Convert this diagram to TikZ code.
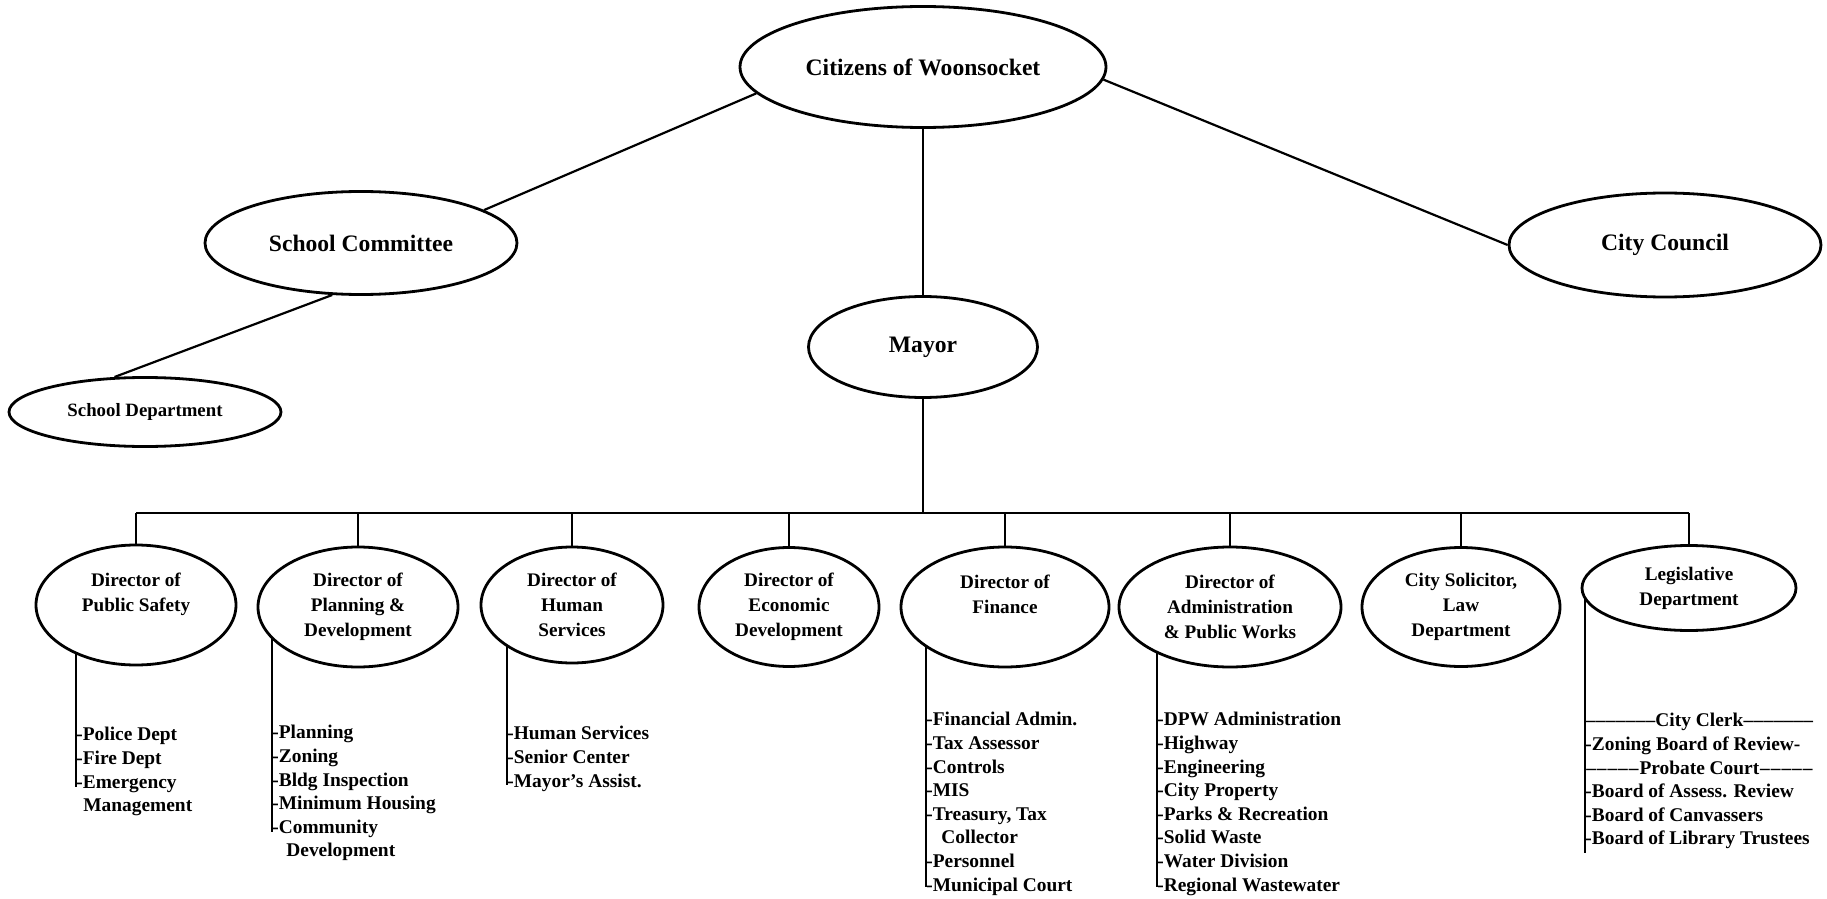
\documentclass[tikz,border=0pt]{standalone}
\usepackage{fontspec}
\setmainfont{Liberation Serif}
\usetikzlibrary{shapes.geometric,backgrounds}
\newcommand\mydashfill{\xleaders\hbox{\textendash}\hfill}
\tikzset{
  oval/.style={ellipse,draw,line width=1.4pt,fill=white,inner sep=0pt,align=center,
    font=\bfseries\fontsize{11.8}{14}\selectfont},
  dept/.style={oval,font=\bfseries\fontsize{9.6}{12.5}\selectfont},
  conn/.style={line width=1.1pt},
  lst/.style={anchor=north west,inner sep=0pt,align=left,
    font=\bfseries\fontsize{9.7}{11.8}\selectfont},
}
\begin{document}
\begin{tikzpicture}[x=0.5pt,y=-0.5pt]
\useasboundingbox (0,0) rectangle (1827,899);
% top level
\node[oval,minimum width=183pt,minimum height=60.5pt] (cit) at (923,67) {Citizens of Woonsocket};
\node[oval,minimum width=156pt,minimum height=51.5pt] (sc) at (361,243) {School Committee};
\node[oval,minimum width=136pt,minimum height=34.5pt,font=\bfseries\fontsize{9.4}{11}\selectfont] (sd) at (145,412) {School Department};
\node[oval,minimum width=114.5pt,minimum height=50.5pt] (mayor) at (923,347) {Mayor};
\node[oval,minimum width=156pt,minimum height=52pt] (cc) at (1665,245) {City Council};
% departments
\node[dept,minimum width=100pt,minimum height=60pt] (ps) at (136,605) {Director of\\Public Safety\\\mbox{}};
\node[dept,minimum width=100pt,minimum height=60pt] (pd) at (358,607) {Director of\\Planning \&\\Development};
\node[dept,minimum width=91pt,minimum height=58pt] (hs) at (572,605) {Director of\\Human\\Services};
\node[dept,minimum width=90pt,minimum height=59.5pt] (ed) at (789,607) {Director of\\Economic\\Development};
\node[dept,minimum width=104pt,minimum height=60pt] (fin) at (1005,607) {Director of\\Finance\\\mbox{}};
\node[dept,minimum width=111pt,minimum height=60pt] (apw) at (1230,607) {Director of\\Administration\\\& Public Works};
\node[dept,minimum width=99pt,minimum height=59.5pt] (sol) at (1461,607) {City Solicitor,\\Law\\Department};
\node[dept,minimum width=107pt,minimum height=42.5pt] (leg) at (1689,588) {Legislative\\Department};
% lists
\node[lst] (psL) at (76,727) {-Police Dept\\-Fire Dept\\-Emergency\\\hspace*{3.5pt}Management};
\node[lst] (pdL) at (272,725) {-Planning\\-Zoning\\-Bldg Inspection\\-Minimum Housing\\-Community\\\hspace*{7pt}Development};
\node[lst] (hsL) at (507,726) {-Human Services\\-Senior Center\\-Mayor's Assist.};
\node[lst] (finL) at (926,712) {-Financial Admin.\\-Tax Assessor\\-Controls\\-MIS\\-Treasury, Tax\\\hspace*{7.5pt}Collector\\-Personnel\\-Municipal Court};
\node[lst] (apwL) at (1157,712) {-DPW Administration\\-Highway\\-Engineering\\-City Property\\-Parks \& Recreation\\-Solid Waste\\-Water Division\\-Regional Wastewater};
\node[lst] (legL) at (1585,713) {\makebox[114pt]{\mydashfill City Clerk\mydashfill}\\-Zoning Board of Review-\\\makebox[114pt]{\mydashfill Probate Court\mydashfill}\\-Board of Assess. Review\\-Board of Canvassers\\-Board of Library Trustees};
% coordinates
\coordinate (bar) at (923,513);
\coordinate (psE) at (76,787);
\coordinate (pdE) at (272,832);
\coordinate (hsE) at (507,785);
\coordinate (finE) at (926,887);
\coordinate (apwE) at (1157,887);
\coordinate (legE) at (1585,853);
\begin{pgfonlayer}{background}
\fill[white] (0,0) rectangle (1827,899);
\draw[conn] (cit.189) -- (sc.15);
\draw[conn] (sc.241) -- (sd.131);
\draw[conn] (cit.356) -- (cc.180);
\draw[conn] (cit) -- (mayor) -- (bar);
\draw[conn] (ps |- bar) -- (leg |- bar);
\foreach \n in {ps,pd,hs,ed,fin,apw,sol,leg} \draw[conn] (\n) -- (\n |- bar);
\foreach \n in {ps,pd,hs,fin,apw,leg} \draw[conn] (\n E |- \n) -- (\n E);
\end{pgfonlayer}
\end{tikzpicture}
\end{document}
